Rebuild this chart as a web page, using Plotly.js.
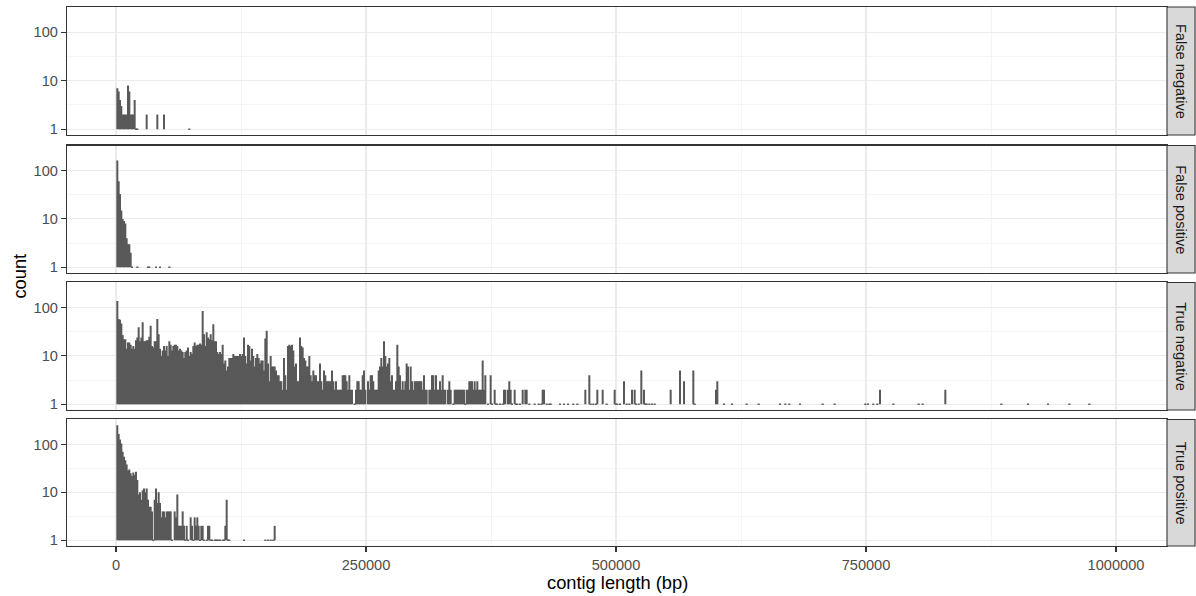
<!DOCTYPE html>
<html><head><meta charset="utf-8">
<script src="https://cdn.plot.ly/plotly-3.0.1.min.js"></script>
<style>html,body{margin:0;padding:0;background:#fff}#chart{width:1196px;height:596px}</style>
</head><body><div id="chart"></div>
<script>
// ---- data ----
const BIN_WIDTH = 1000000 / 750;           // histogram bin width (bp); bin k is centred at k*BIN_WIDTH
const panelNames = ['False negative', 'False positive', 'True negative', 'True positive'];

// counts per bin, starting at bin k = 0
const fnCounts = [0,7,6,4,3,2,2,2,2,8,6,2,2,2,4,1,1,0,0,0,0,0,0,2,0,0,0,0,0,0,0,2,0,0,0,0,2,
  0,0,0,0,0,0,0,0,0,0,0,0,0,0,0,0,0,0,1];
const fpCounts = [0,162,60,33,15,10,9,8,4,3,3,2,1,0,0,0,1,0,0,0,0,0,0,0,1,1,0,0,0,0,1,0,0,1,0,0,0,0,0,0,1];
const tpCounts = [0,
  251,165,127,105,70,55,47,38,29,30,
  25,22,26,23,27,18,9,10,7,11,
  12,10,12,7,5,5,4,1,7,12,
  6,10,6,3,4,4,3,4,4,4,
  4,1,0,4,3,9,2,2,2,4,
  2,1,2,1,0,3,2,1,3,2,
  3,2,1,2,2,1,0,1,2,2,
  1,1,0,1,1,1,1,1,0,1,
  1,2,7,1,1,0,0,0,0,0,
  0,0,0,0,0,1,0,0,0,0,
  0,0,0,0,0,0,0,0,0,0,
  0,1,0,1,0,1,0,1,2];
const tnCounts = [0,
  137,58,56,47,27,22,22,14,19,19,
  17,14,16,14,21,24,39,20,24,50,
  20,20,21,21,25,42,16,15,20,20,
  58,28,14,10,13,16,13,16,10,20,
  17,13,16,17,17,16,13,14,13,12,
  9,12,13,15,10,12,11,16,19,16,
  17,17,18,17,85,28,16,31,24,22,
  28,21,45,20,20,12,11,12,11,17,
  7,8,5,6,9,9,9,11,10,10,
  10,10,11,10,11,24,10,7,17,16,
  8,14,10,6,9,11,9,7,8,8,
  5,23,33,7,3,10,6,6,6,5,
  4,4,3,3,2,9,4,2,16,17,
  16,17,13,6,7,3,3,24,16,15,
  9,8,6,6,10,4,3,5,4,4,
  3,3,7,3,2,5,4,3,3,3,
  3,5,3,2,3,2,2,2,2,4,
  4,4,3,2,4,2,2,0,1,2,
  3,3,2,2,4,5,2,0,3,2,
  4,4,3,2,2,2,5,6,9,6,
  20,10,6,7,9,3,4,2,2,3,
  17,6,4,2,3,2,3,7,6,2,
  6,3,2,3,3,3,3,3,3,2,
  4,2,2,0,2,2,4,4,2,4,
  2,2,3,2,4,2,2,0,2,3,
  2,0,1,2,2,2,2,2,2,2,
  2,1,2,2,3,3,3,2,3,2,
  3,2];
// sparse tail of the True negative panel: bin index and count
const tnTailBin = [273,274,275,276,277,279,281,282,284,285,286,288,290,291,292,294,295,296,297,299,300,301,303,
  305,307,308,310,314,317,319,320,321,323,325,326,333,336,339,343,346,352,355,356,358,360,361,365,368,
  374,375,376,378,381,383,385,387,389,390,392,394,396,397,398,400,402,404,416,423,426,433,434,450,451,
  456,462,473,482,498,502,505,513,530,539,562,564,568,571,573,583,602,605,622,664,684,699,715,730];
const tnTailCount = [2,2,8,2,4,1,4,1,2,1,1,1,1,2,2,2,3,2,1,2,1,1,1,
  2,2,2,1,1,1,1,2,2,1,1,1,1,1,1,1,1,2,4,1,1,1,2,2,1,
  2,1,1,1,3,1,1,2,2,1,1,5,2,1,1,1,1,1,2,5,3,5,1,2,3,
  1,1,1,1,1,1,1,1,1,1,1,1,1,1,2,1,1,1,2,1,1,1,1,1];

const xTickVals = [0, 250000, 500000, 750000, 1000000];
const xTickText = ['0', '250000', '500000', '750000', '1000000'];
const xMinorVals = [125000, 375000, 625000, 875000];
const yTickVals = [1, 10, 100];
const yTickText = ['1', '10', '100'];
const yMinorVals = [3.1623, 31.623, 316.23];

// ---- build ----
function toXY(dense, tailBin, tailCount) {
  const x = [], y = [];
  dense.forEach((c, k) => { if (c > 0) { x.push(k * BIN_WIDTH); y.push(c); } });
  (tailBin || []).forEach((k, i) => { if (tailCount[i] > 0) { x.push(k * BIN_WIDTH); y.push(tailCount[i]); } });
  return {x, y};
}
const panelData = [toXY(fnCounts), toXY(fpCounts), toXY(tnCounts, tnTailBin, tnTailCount), toXY(tpCounts)];

const FONT = 'Liberation Sans, Arial, Helvetica, sans-serif';
const BAR = '#595959';
const TICK = 14.6, TITLE = 18.3;
const BAR_DRAW_WIDTH = BIN_WIDTH * 1.5;   // slight overlap so adjacent bins render as a solid block
const domains = [[0.7625, 1.0], [0.5065, 0.7430], [0.2523, 0.4889], [0.0, 0.2347]];

const traces = [];
const layout = {
  width: 1196, height: 596,
  margin: {l: 67, r: 29, t: 7, b: 50},
  paper_bgcolor: '#fff', plot_bgcolor: '#fff',
  showlegend: false, bargap: 0,
  font: {family: FONT, color: '#4D4D4D'},
  shapes: [], annotations: []
};

panelData.forEach((d, i) => {
  const n = i === 0 ? '' : String(i + 1);
  traces.push({
    type: 'bar', x: d.x, y: d.y.map(c => c - 1), base: 1,
    width: BAR_DRAW_WIDTH,
    // single-count bins have zero height on the log scale; a thin outline keeps them visible
    marker: {color: BAR, line: {color: BAR, width: d.y.map(c => c === 1 ? 1 : 0)}},
    xaxis: 'x' + n, yaxis: 'y' + n, hoverinfo: 'skip'
  });
  const bottom = i === 3;
  layout['xaxis' + n] = {
    domain: [0, 1], anchor: 'y' + n, range: [-49000, 1051000],
    matches: i === 0 ? undefined : 'x',
    tickmode: 'array', tickvals: xTickVals, ticktext: xTickText,
    showticklabels: bottom, ticks: bottom ? 'outside' : '', ticklen: 5, tickwidth: 1.1, tickcolor: '#333333',
    tickfont: {family: FONT, size: TICK, color: '#4D4D4D'},
    showgrid: true, gridcolor: '#EBEBEB', gridwidth: 1.1,
    minor: {tickmode: 'array', tickvals: xMinorVals, showgrid: true, gridcolor: '#EBEBEB', gridwidth: 0.55, ticks: ''},
    zeroline: false, showline: true, mirror: true, linecolor: '#333333', linewidth: 1.1
  };
  layout['yaxis' + n] = {
    domain: domains[i], anchor: 'x' + n, type: 'log', range: [-0.12, 2.52],
    tickmode: 'array', tickvals: yTickVals, ticktext: yTickText,
    ticks: 'outside', ticklen: 5, tickwidth: 1.1, tickcolor: '#333333',
    tickfont: {family: FONT, size: TICK, color: '#4D4D4D'},
    showgrid: true, gridcolor: '#EBEBEB', gridwidth: 1.1,
    minor: {tickmode: 'array', tickvals: yMinorVals, showgrid: true, gridcolor: '#EBEBEB', gridwidth: 0.55, ticks: ''},
    zeroline: false, showline: true, mirror: true, linecolor: '#333333', linewidth: 1.1
  };
  layout.shapes.push({
    type: 'rect', xref: 'paper', yref: 'y' + n + ' domain',
    x0: 1.0, x1: 1.0255, y0: 0, y1: 1,
    fillcolor: '#D9D9D9', line: {color: '#333333', width: 1.1}
  });
  layout.annotations.push({
    text: panelNames[i], xref: 'paper', yref: 'y' + n + ' domain',
    x: 1.0128, y: 0.5, xanchor: 'center', yanchor: 'middle',
    textangle: 90, showarrow: false,
    font: {family: FONT, size: TICK, color: '#1A1A1A'}
  });
});

layout.annotations.push({
  text: 'count', xref: 'paper', yref: 'paper', x: -0.0436, y: 0.5,
  xanchor: 'center', yanchor: 'middle', textangle: -90, showarrow: false,
  font: {family: FONT, size: TITLE, color: '#000000'}
});
layout.annotations.push({
  text: 'contig length (bp)', xref: 'paper', yref: 'paper', x: 0.5, y: -0.0668,
  xanchor: 'center', yanchor: 'middle', showarrow: false,
  font: {family: FONT, size: TITLE, color: '#000000'}
});

Plotly.newPlot('chart', traces, layout, {staticPlot: true, displayModeBar: false});
</script>
</body></html>
